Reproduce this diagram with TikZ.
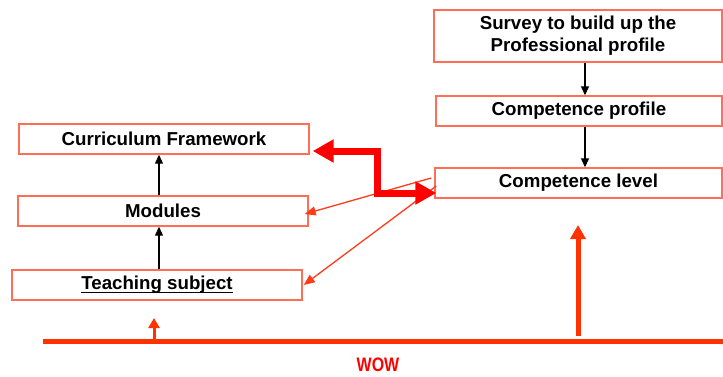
\documentclass[tikz,border=0pt]{standalone}
\usepackage{fontspec}
\setmainfont{Liberation Sans}
\newfontfamily\wowfont[FakeStretch=0.82]{Liberation Sans}
\usetikzlibrary{arrows.meta,calc}
\definecolor{boxred}{RGB}{255,110,85}
\definecolor{thinred}{RGB}{255,60,25}
\definecolor{basered}{RGB}{255,50,0}
\definecolor{thickred}{RGB}{255,0,0}
\newcommand{\thickul}[1]{{\setbox0\hbox{#1}\rlap{\rule[-3.6pt]{\wd0}{1.8pt}}\box0}}
\begin{document}
\begin{tikzpicture}[x=1pt,y=-1pt,
  box/.style={draw=boxred,line width=1.4pt,fill=white,inner sep=0pt,align=center,
    font=\fontsize{18.7}{22}\selectfont\bfseries,text=black},
  blk/.style={draw=black,line width=1.2pt,-{Triangle[length=9pt,width=8pt]}},
  thinarr/.style={draw=thinred,line width=1.3pt,-{Triangle[length=11pt,width=9pt]}},
  thickarr/.style={draw=thickred,line width=7pt,{Triangle[length=21pt,width=22pt]}-{Triangle[length=21pt,width=22pt]}},
  basearr/.style={draw=basered,line width=5pt}]
\useasboundingbox (0,0) rectangle (723,376);
\node[box,minimum width=288pt,minimum height=52pt] (sv) at (578,36) {Survey to build up the\\Professional profile};
\node[box,minimum width=286pt,minimum height=30pt] (cp) at (579,111) {Competence profile};
\node[box,minimum width=287pt,minimum height=30pt] (cl) at (578.5,183) {Competence level};
\node[box,minimum width=290pt,minimum height=30pt] (cf) at (164,139) {Curriculum Framework};
\node[box,minimum width=290pt,minimum height=30pt] (md) at (163,211) {Modules};
\node[box,minimum width=290pt,minimum height=30pt] (ts) at (157,285) {\thickul{Teaching subject}};
% black arrows
\draw[blk] ([xshift=7pt]sv.south) -- ([xshift=7pt]sv.south |- cp.north);
\draw[blk] ([xshift=6pt]cp.south) -- ([xshift=6pt]cp.south |- cl.north);
\draw[blk] ([xshift=-4pt]md.north) -- ([xshift=-4pt]md.north |- cf.south);
\draw[blk] ([xshift=2pt]ts.north) -- ([xshift=2pt]ts.north |- md.south);
% thin red arrows
\draw[thinarr] ([xshift=-3pt,yshift=5pt]cl.west) -- ([xshift=-4pt,yshift=-3pt]md.east);
\draw[thinarr] ([xshift=2pt,yshift=-3pt]cl.west) -- ([xshift=1pt]ts.east);
% thick double arrow
\coordinate (k1) at (377,151);
\coordinate (k2) at (377,193);
\draw[thickarr] ([xshift=3pt,yshift=-12pt]cf.east) -- (k1) -- (k2) -- ([xshift=2pt,yshift=-10pt]cl.west);
% base line and arrows
\coordinate (l1) at (43,341);
\coordinate (l2) at (723,341);
\coordinate (a1) at (154,339);
\coordinate (a1t) at (154,318);
\coordinate (a2) at (578,336);
\coordinate (a2t) at (578,225);
\draw[basearr] (l1) -- (l2);
\draw[draw=basered,line width=3pt,-{Triangle[length=10pt,width=11pt]}] (a1) -- (a1t);
\draw[draw=basered,line width=5pt,-{Triangle[length=14pt,width=15pt]}] (a2) -- (a2t);
\node[text=thickred,font=\wowfont\fontsize{19.5}{22}\selectfont\bfseries] (wow) at (378,365) {WOW};
\end{tikzpicture}
\end{document}
